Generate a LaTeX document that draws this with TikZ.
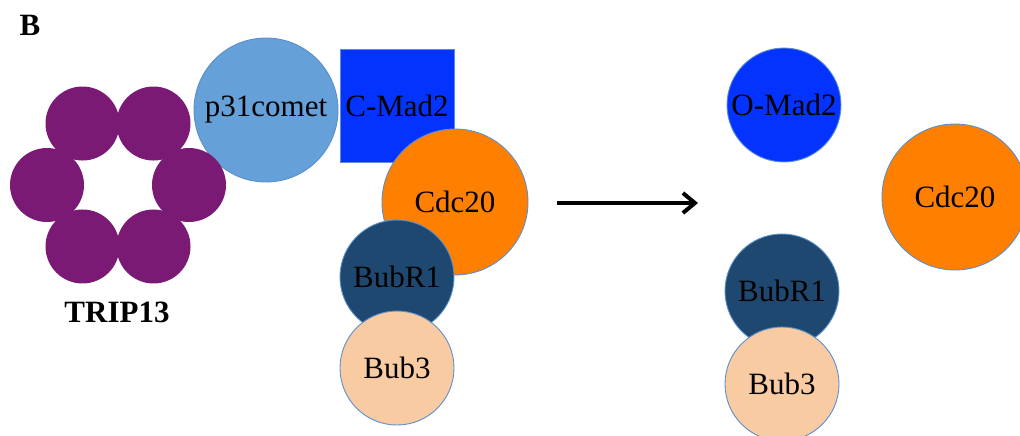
\documentclass[tikz,border=0pt]{standalone}
\usepackage{fontspec}
\setmainfont{Liberation Serif}
\usetikzlibrary{arrows.meta,calc}

\definecolor{tripcol}{HTML}{7B1A75}
\definecolor{p31col}{HTML}{65A0D9}
\definecolor{madcol}{HTML}{0433FF}
\definecolor{cdccol}{HTML}{FF7F00}
\definecolor{bubrcol}{HTML}{1E4870}
\definecolor{bubcol}{HTML}{F9CBA2}
\definecolor{rimcol}{HTML}{5B8FCB}

\tikzset{
  prot/.style={circle, draw=rimcol, line width=0.9pt, inner sep=0pt,
               text=black, font=\fontsize{31}{36}\selectfont},
  ringsub/.style={circle, fill=tripcol, inner sep=0pt, minimum size=74pt},
  lbl/.style={font=\fontsize{31}{36}\selectfont\bfseries, inner sep=0pt}
}

\begin{document}
\begin{tikzpicture}[x=1pt, y=-1pt]
  \useasboundingbox (0,0) rectangle (1020,436);

  % panel letter
  \node[lbl] (panel) at (30,25) {B};

  % p31comet sits behind the TRIP13 ring
  \node[prot, fill=p31col, minimum size=144pt] (p31) at (266,110) {p31comet};

  % TRIP13 hexameric ring
  \coordinate (ringc) at (118,185);
  \foreach \a [count=\i] in {0,60,120,180,240,300}
    \node[ringsub] (t\i) at ($(ringc)+(\a:71pt)$) {};
  \node[lbl] (trip) at (117,312) {TRIP13};

  % closed Mad2 bound to Cdc20 in the complex
  \node[rectangle, draw=rimcol, line width=0.9pt, fill=madcol, minimum width=114pt,
        minimum height=113pt, inner sep=0pt, font=\fontsize{31}{36}\selectfont]
        (cmad) at (397,105.5) {C-Mad2};
  \node[prot, fill=cdccol, minimum size=146pt] (cdcL) at (455,202) {Cdc20};
  \node[prot, fill=bubrcol, minimum size=114pt] (bubrL) at (397,277) {BubR1};
  \node[prot, fill=bubcol, minimum size=114pt] (bubL) at (397,368) {Bub3};

  % products after disassembly
  \node[prot, fill=madcol, minimum size=114pt] (omad) at (784,105) {O-Mad2};
  \node[prot, fill=cdccol, minimum size=146pt] (cdcR) at (955,197) {Cdc20};
  \node[prot, fill=bubrcol, minimum size=114pt] (bubrR) at (782,291) {BubR1};
  \node[prot, fill=bubcol, minimum size=114pt] (bubR) at (782,384) {Bub3};

  % reaction arrow
  \coordinate (arrS) at (557,203);
  \coordinate (arrE) at (698,203);
  \draw[line width=4pt, -{Straight Barb[length=12pt, width=20pt, line width=4pt]}]
    (arrS) -- (arrE);
\end{tikzpicture}
\end{document}
